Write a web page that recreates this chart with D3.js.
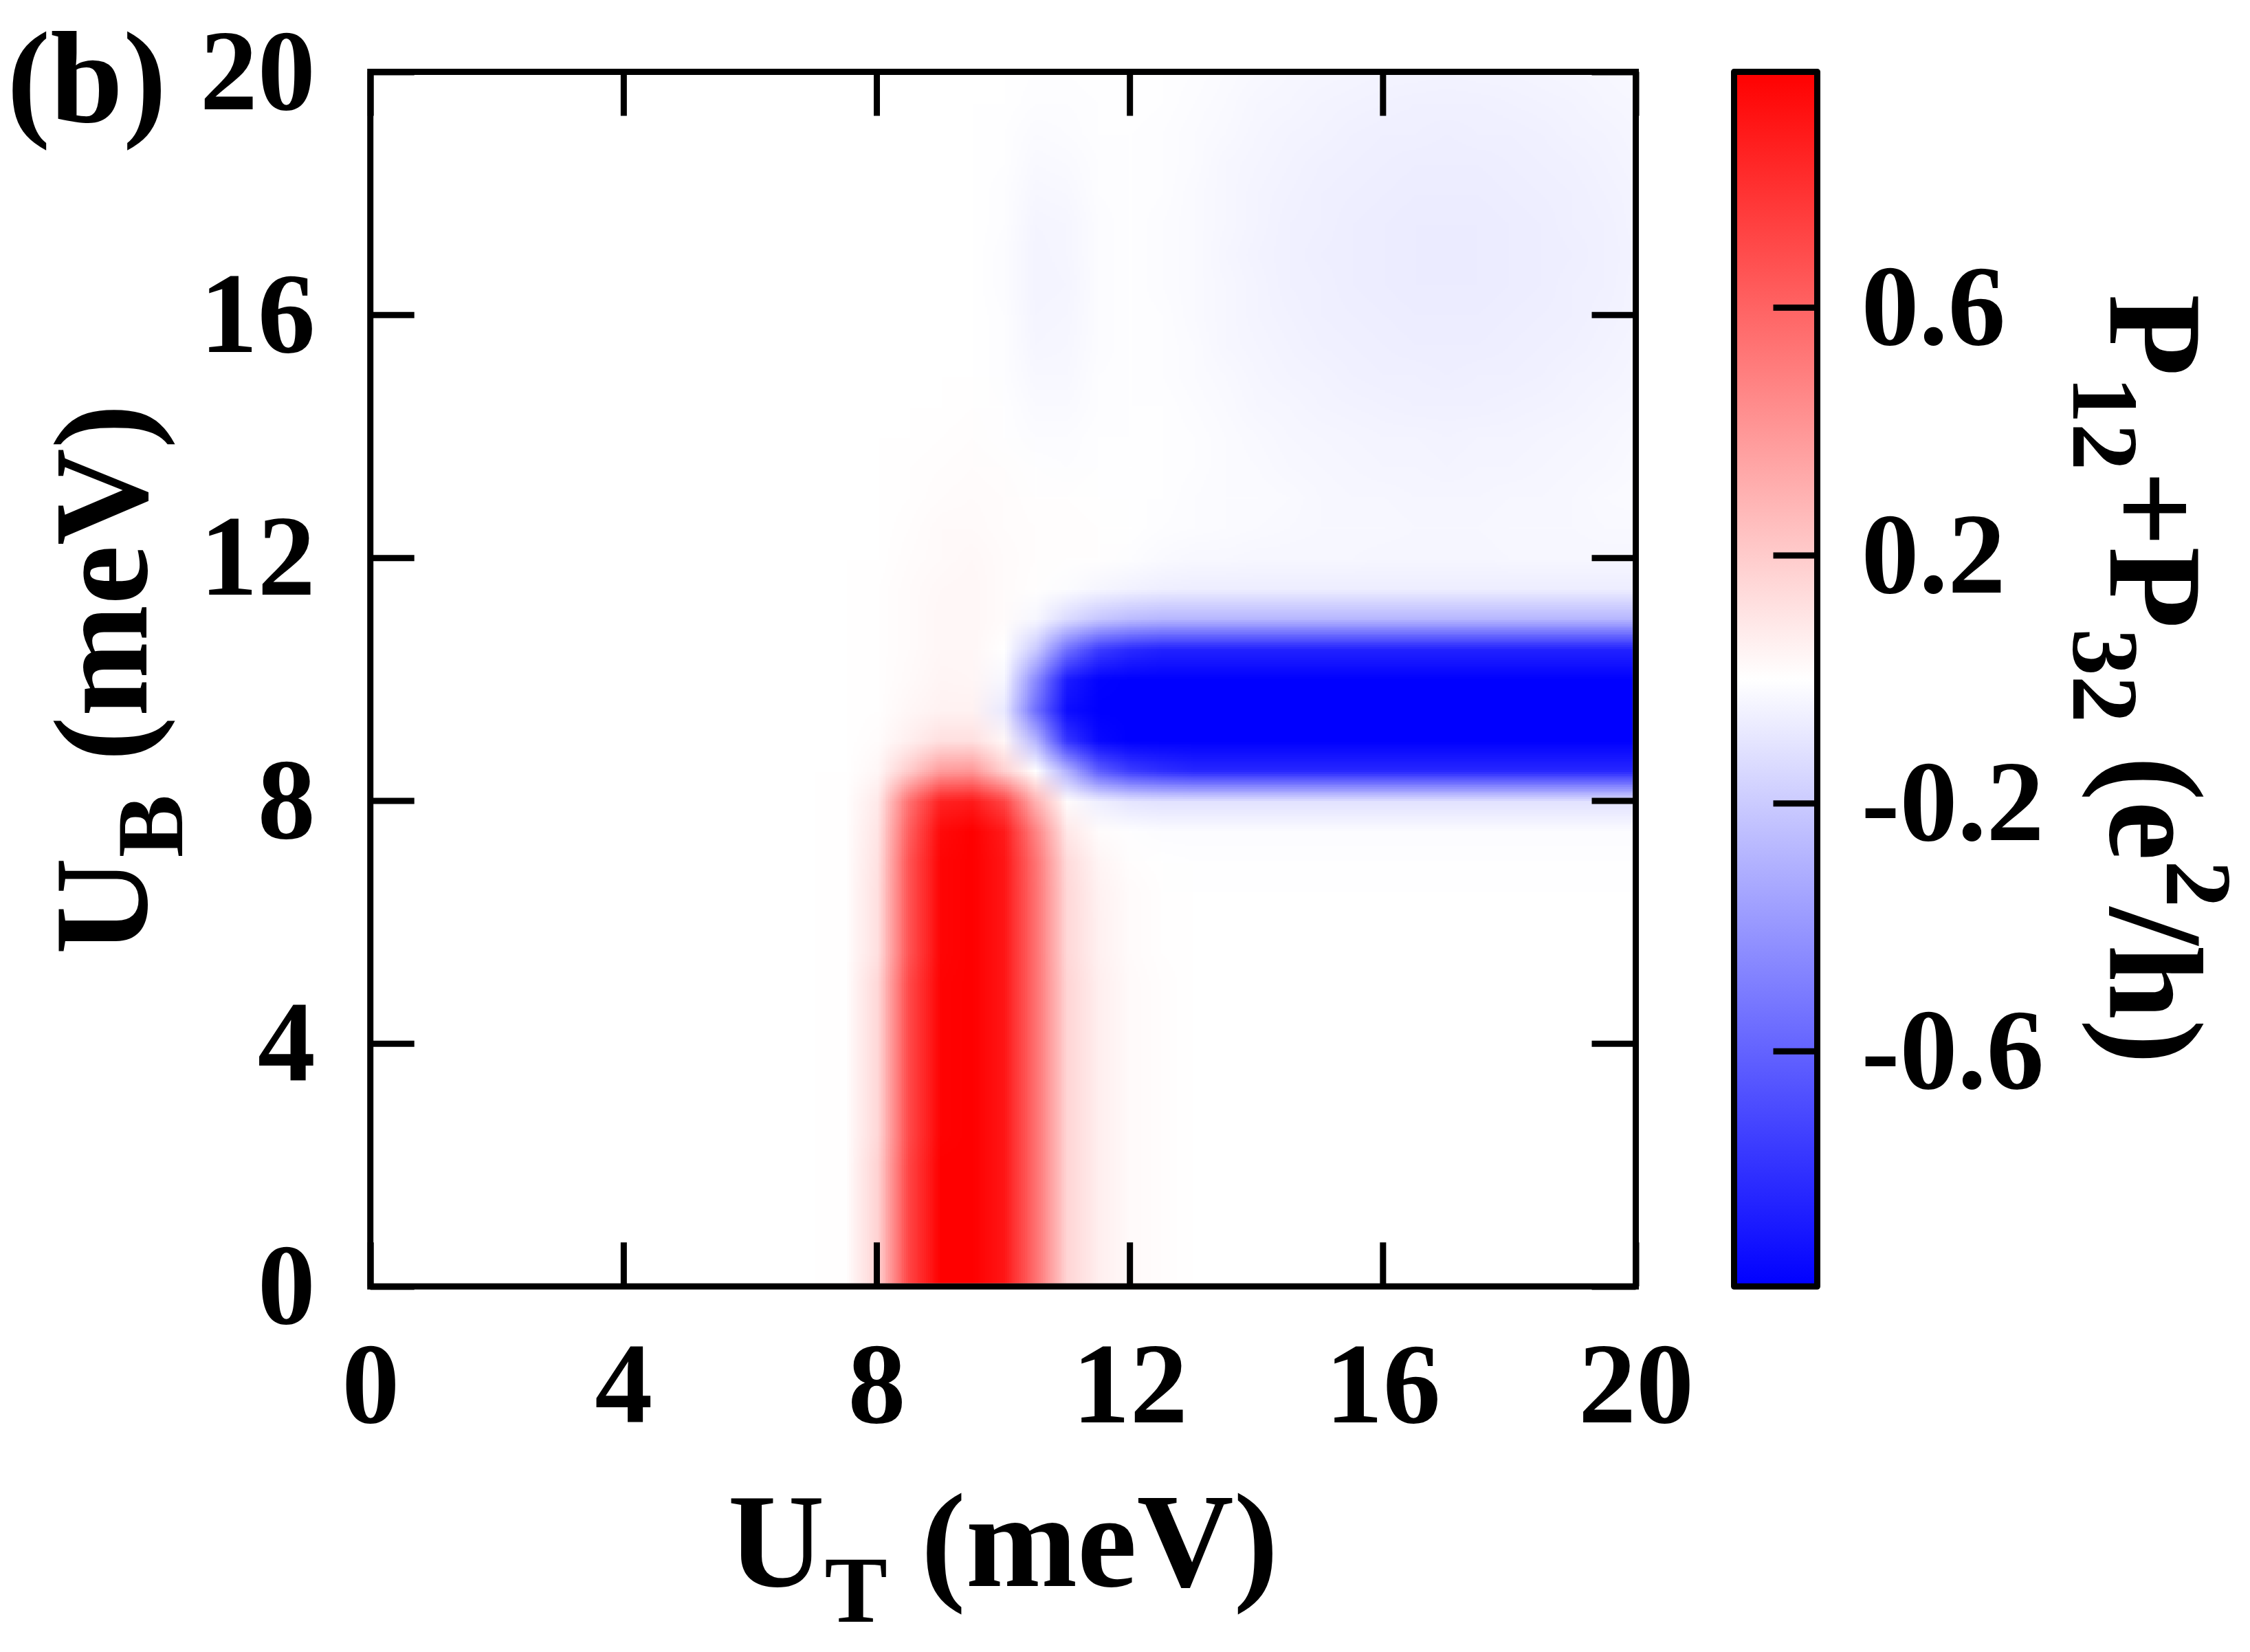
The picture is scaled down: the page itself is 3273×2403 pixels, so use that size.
<!DOCTYPE html>
<html>
<head>
<meta charset="utf-8">
<script src="https://cdn.jsdelivr.net/npm/d3@7"></script>
<style>
  html, body { margin: 0; padding: 0; background: #ffffff; }
  svg { display: block; }
</style>
</head>
<body>
<svg id="chart"></svg>
<script>
// ============================================
// P12+P32 map over U_T / U_B (panel b)
// ============================================

// --- Daten: Gitter in meV (Schritt 0.5) ---
const UT_VALUES = [0, 0.5, 1, 1.5, 2, 2.5, 3, 3.5, 4, 4.5, 5, 5.5, 6, 6.5, 7, 7.5, 8, 8.5, 9, 9.5,
  10, 10.5, 11, 11.5, 12, 12.5, 13, 13.5, 14, 14.5, 15, 15.5, 16, 16.5, 17, 17.5, 18, 18.5, 19, 19.5, 20];
const UB_VALUES = [0, 0.5, 1, 1.5, 2, 2.5, 3, 3.5, 4, 4.5, 5, 5.5, 6, 6.5, 7, 7.5, 8, 8.5, 9, 9.5,
  10, 10.5, 11, 11.5, 12, 12.5, 13, 13.5, 14, 14.5, 15, 15.5, 16, 16.5, 17, 17.5, 18, 18.5, 19, 19.5, 20];

// Bereich, den die Rechnung tatsaechlich abdeckt (schmaler weisser Rand unten/rechts)
const DATA_UT_EXTENT = [0, 19.95];
const DATA_UB_EXTENT = [0.05, 20];

// P_ROWS[j][i] = P12+P32 (e^2/h) bei U_B = UB_VALUES[j], U_T = UT_VALUES[i]
const P_ROWS = [
  [0,0,0,0,0,0,0,0,0,0,0,0,0,0,0, 0.005,0.17,0.72,0.98,1,0.9,0.55,0.16,0.06,0.02,0.006, 0,0,0,0,0,0,0,0,0,0,0,0,0,0,0],
  [0,0,0,0,0,0,0,0,0,0,0,0,0,0,0, 0.005,0.17,0.72,0.98,1,0.9,0.55,0.16,0.06,0.02,0.006, 0,0,0,0,0,0,0,0,0,0,0,0,0,0,0],
  [0,0,0,0,0,0,0,0,0,0,0,0,0,0,0, 0.005,0.17,0.72,0.98,1,0.9,0.55,0.16,0.06,0.02,0.006, 0,0,0,0,0,0,0,0,0,0,0,0,0,0,0],
  [0,0,0,0,0,0,0,0,0,0,0,0,0,0,0, 0.005,0.17,0.72,0.98,1,0.9,0.55,0.16,0.06,0.02,0.006, 0,0,0,0,0,0,0,0,0,0,0,0,0,0,0],
  [0,0,0,0,0,0,0,0,0,0,0,0,0,0,0, 0.005,0.17,0.72,0.98,1,0.9,0.55,0.16,0.06,0.02,0.006, 0,0,0,0,0,0,0,0,0,0,0,0,0,0,0],
  [0,0,0,0,0,0,0,0,0,0,0,0,0,0,0, 0.005,0.15,0.7,0.97,1,0.9,0.55,0.16,0.06,0.02,0.006, 0,0,0,0,0,0,0,0,0,0,0,0,0,0,0],
  [0,0,0,0,0,0,0,0,0,0,0,0,0,0,0, 0.005,0.15,0.7,0.97,1,0.9,0.55,0.16,0.06,0.02,0.006, 0,0,0,0,0,0,0,0,0,0,0,0,0,0,0],
  [0,0,0,0,0,0,0,0,0,0,0,0,0,0,0, 0.005,0.15,0.7,0.97,1,0.9,0.55,0.16,0.06,0.02,0.006, 0,0,0,0,0,0,0,0,0,0,0,0,0,0,0],
  [0,0,0,0,0,0,0,0,0,0,0,0,0,0,0, 0.005,0.15,0.7,0.97,1,0.9,0.55,0.16,0.06,0.02,0.006, 0,0,0,0,0,0,0,0,0,0,0,0,0,0,0],
  [0,0,0,0,0,0,0,0,0,0,0,0,0,0,0, 0.005,0.15,0.7,0.97,1,0.9,0.55,0.16,0.06,0.02,0.006, 0,0,0,0,0,0,0,0,0,0,0,0,0,0,0],
  [0,0,0,0,0,0,0,0,0,0,0,0,0,0,0, 0.005,0.15,0.7,0.97,1,0.9,0.55,0.16,0.06,0.02,0.006, 0,0,0,0,0,0,0,0,0,0,0,0,0,0,0],
  [0,0,0,0,0,0,0,0,0,0,0,0,0,0,0, 0.003,0.12,0.66,0.96,1,0.9,0.55,0.15,0.055,0.016,0.005, 0,0,0,0,0,0,0,0,0,0,0,0,0,0,0],
  [0,0,0,0,0,0,0,0,0,0,0,0,0,0,0, 0.003,0.12,0.66,0.96,1,0.9,0.55,0.15,0.055,0.016,0.005, 0,0,0,0,0,0,0,0,0,0,0,0,0,0,0],
  [0,0,0,0,0,0,0,0,0,0,0,0,0,0,0, 0.003,0.12,0.66,0.96,1,0.9,0.55,0.15,0.05,0.014,0.004, 0,0,0,0,0,0,0,0,0,0,0,0,0,0,0],
  [0,0,0,0,0,0,0,0,0,0,0,0,0,0,0, 0.003,0.11,0.66,0.96,1,0.9,0.54,0.14,0.04,0.008,0, -0.003,-0.003,-0.003,-0.003,-0.003,-0.003,-0.003,-0.003,-0.003,-0.003,-0.003,-0.003,-0.003,-0.003,-0.003],
  [0,0,0,0,0,0,0,0,0,0,0,0,0,0,0, 0.003,0.1,0.62,0.94,0.99,0.88,0.48,0.09,0.01,-0.005,-0.01, -0.012,-0.012,-0.012,-0.012,-0.012,-0.012,-0.012,-0.012,-0.012,-0.012,-0.012,-0.012,-0.012,-0.012,-0.012],
  [0,0,0,0,0,0,0,0,0,0,0,0,0,0,0, 0.002,0.08,0.55,0.85,0.88,0.72,0.3,0.01,-0.06,-0.1,-0.11, -0.11,-0.11,-0.11,-0.11,-0.11,-0.11,-0.11,-0.11,-0.11,-0.11,-0.11,-0.11,-0.11,-0.11,-0.11],
  [0,0,0,0,0,0,0,0,0,0,0,0,0,0,0, 0,0.03,0.2,0.38,0.4,0.18,0,-0.3,-0.62,-0.75,-0.8, -0.83,-0.83,-0.83,-0.83,-0.83,-0.83,-0.83,-0.83,-0.83,-0.83,-0.83,-0.83,-0.83,-0.83,-0.83],
  [0,0,0,0,0,0,0,0,0,0,0,0,0,0,0, 0,0.01,0.06,0.12,0.12,0.03,-0.28,-0.78,-0.95,-0.99,-1, -1,-1,-1,-1,-1,-1,-1,-1,-1,-1,-1,-1,-1,-1,-1],
  [0,0,0,0,0,0,0,0,0,0,0,0,0,0,0, 0,0.005,0.03,0.05,0.05,-0.08,-0.55,-0.93,-0.99,-1,-1, -1,-1,-1,-1,-1,-1,-1,-1,-1,-1,-1,-1,-1,-1,-1],
  [0,0,0,0,0,0,0,0,0,0,0,0,0,0,0, 0,0.003,0.02,0.04,0.035,-0.03,-0.45,-0.88,-0.97,-0.99,-1, -1,-1,-1,-1,-1,-1,-1,-1,-1,-1,-1,-1,-1,-1,-1],
  [0,0,0,0,0,0,0,0,0,0,0,0,0,0,0, 0,0.002,0.015,0.03,0.03,0,-0.2,-0.55,-0.75,-0.82,-0.85, -0.85,-0.85,-0.85,-0.85,-0.85,-0.85,-0.85,-0.85,-0.85,-0.85,-0.85,-0.85,-0.85,-0.85,-0.85],
  [0,0,0,0,0,0,0,0,0,0,0,0,0,0,0, 0,0.002,0.015,0.03,0.03,0.015,-0.03,-0.14,-0.22,-0.26,-0.28, -0.28,-0.28,-0.28,-0.28,-0.28,-0.28,-0.28,-0.28,-0.28,-0.28,-0.28,-0.28,-0.28,-0.28,-0.28],
  [0,0,0,0,0,0,0,0,0,0,0,0,0,0,0, 0,0.002,0.015,0.025,0.03,0.015,0.005,-0.01,-0.035,-0.05,-0.06, -0.065,-0.065,-0.065,-0.065,-0.065,-0.065,-0.065,-0.065,-0.065,-0.065,-0.065,-0.065,-0.065,-0.065,-0.065],
  [0,0,0,0,0,0,0,0,0,0,0,0,0,0,0, 0,0.001,0.01,0.02,0.025,0.015,0.008,0.005,0.003,-0.008,-0.018, -0.025,-0.028,-0.03,-0.03,-0.031,-0.032,-0.033,-0.033,-0.033,-0.033,-0.032,-0.032,-0.031,-0.03,-0.03],
  [0,0,0,0,0,0,0,0,0,0,0,0,0,0,0, 0,0,0.008,0.018,0.02,0.012,0.008,0.006,0.005,0,-0.008, -0.012,-0.016,-0.02,-0.023,-0.025,-0.027,-0.028,-0.029,-0.029,-0.029,-0.028,-0.027,-0.026,-0.024,-0.022],
  [0,0,0,0,0,0,0,0,0,0,0,0,0,0,0, 0,0,0.004,0.01,0.015,0.012,0.005,0.002,0,-0.003,-0.005, -0.01,-0.014,-0.017,-0.021,-0.026,-0.029,-0.032,-0.034,-0.035,-0.034,-0.032,-0.029,-0.026,-0.021,-0.017],
  [0,0,0,0,0,0,0,0,0,0,0,0,0,0,0, 0,0,0.002,0.008,0.012,0.006,-0.005,-0.006,-0.003,-0.001,-0.004, -0.009,-0.014,-0.02,-0.026,-0.031,-0.036,-0.039,-0.04,-0.041,-0.04,-0.039,-0.036,-0.031,-0.026,-0.02],
  [0,0,0,0,0,0,0,0,0,0,0,0,0,0,0, 0,0,0,0.004,0.006,-0.002,-0.012,-0.012,-0.005,-0.002,-0.003, -0.008,-0.014,-0.023,-0.03,-0.035,-0.04,-0.043,-0.044,-0.045,-0.044,-0.043,-0.04,-0.035,-0.03,-0.023],
  [0,0,0,0,0,0,0,0,0,0,0,0,0,0,0, 0,0,0,0,0.002,-0.005,-0.019,-0.018,-0.007,-0.002,-0.005, -0.011,-0.02,-0.03,-0.036,-0.042,-0.047,-0.05,-0.052,-0.053,-0.052,-0.05,-0.047,-0.042,-0.036,-0.03],
  [0,0,0,0,0,0,0,0,0,0,0,0,0,0,0, 0,0,0,0,0,-0.007,-0.027,-0.025,-0.009,-0.002,-0.006, -0.014,-0.024,-0.035,-0.042,-0.048,-0.053,-0.057,-0.059,-0.06,-0.059,-0.057,-0.053,-0.048,-0.042,-0.035],
  [0,0,0,0,0,0,0,0,0,0,0,0,0,0,0, 0,0,0,0,0,-0.008,-0.034,-0.031,-0.01,-0.003,-0.008, -0.017,-0.029,-0.04,-0.047,-0.053,-0.058,-0.062,-0.065,-0.066,-0.065,-0.062,-0.058,-0.053,-0.047,-0.04],
  [0,0,0,0,0,0,0,0,0,0,0,0,0,0,0, 0,0,0,0,0,-0.009,-0.039,-0.035,-0.011,-0.003,-0.009, -0.019,-0.032,-0.043,-0.05,-0.057,-0.062,-0.067,-0.069,-0.07,-0.069,-0.067,-0.062,-0.057,-0.05,-0.043],
  [0,0,0,0,0,0,0,0,0,0,0,0,0,0,0, 0,0,0,0,0,-0.01,-0.041,-0.037,-0.011,-0.003,-0.01, -0.02,-0.032,-0.044,-0.052,-0.059,-0.065,-0.069,-0.073,-0.074,-0.073,-0.069,-0.065,-0.059,-0.052,-0.044],
  [0,0,0,0,0,0,0,0,0,0,0,0,0,0,0, 0,0,0,0,0,-0.01,-0.041,-0.036,-0.011,-0.003,-0.01, -0.021,-0.033,-0.045,-0.053,-0.06,-0.066,-0.07,-0.074,-0.075,-0.074,-0.07,-0.066,-0.06,-0.053,-0.045],
  [0,0,0,0,0,0,0,0,0,0,0,0,0,0,0, 0,0,0,0,0,-0.009,-0.038,-0.033,-0.01,-0.003,-0.01, -0.02,-0.032,-0.044,-0.052,-0.059,-0.065,-0.069,-0.073,-0.074,-0.073,-0.069,-0.065,-0.059,-0.052,-0.044],
  [0,0,0,0,0,0,0,0,0,0,0,0,0,0,0, 0,0,0,0,0,-0.007,-0.03,-0.026,-0.008,-0.003,-0.009, -0.019,-0.032,-0.043,-0.05,-0.057,-0.062,-0.067,-0.069,-0.07,-0.069,-0.067,-0.062,-0.057,-0.05,-0.043],
  [0,0,0,0,0,0,0,0,0,0,0,0,0,0,0, 0,0,0,0,0,-0.005,-0.022,-0.019,-0.006,-0.002,-0.008, -0.017,-0.029,-0.04,-0.047,-0.053,-0.058,-0.062,-0.065,-0.066,-0.065,-0.062,-0.058,-0.053,-0.047,-0.04],
  [0,0,0,0,0,0,0,0,0,0,0,0,0,0,0, 0,0,0,0,0,-0.003,-0.015,-0.012,-0.004,-0.002,-0.006, -0.014,-0.024,-0.035,-0.042,-0.048,-0.053,-0.057,-0.059,-0.06,-0.059,-0.057,-0.053,-0.048,-0.042,-0.035],
  [0,0,0,0,0,0,0,0,0,0,0,0,0,0,0, 0,0,0,0,0,-0.001,-0.008,-0.006,-0.002,-0.001,-0.005, -0.011,-0.02,-0.03,-0.036,-0.042,-0.047,-0.05,-0.052,-0.053,-0.052,-0.05,-0.047,-0.042,-0.036,-0.03],
  [0,0,0,0,0,0,0,0,0,0,0,0,0,0,0, 0,0,0,0,0,0,-0.004,-0.003,-0.001,-0.001,-0.003, -0.008,-0.014,-0.023,-0.03,-0.035,-0.04,-0.043,-0.044,-0.045,-0.044,-0.043,-0.04,-0.035,-0.03,-0.023]
];

// Achsen-Ticks und Farbskala
const AXIS_TICKS = [0, 4, 8, 12, 16, 20];
const CB_TICKS   = [0.6, 0.2, -0.2, -0.6];
const CB_RANGE   = [-0.98, 0.98];
const CB_COLORS  = ['#0000ff', '#ffffff', '#ff0000'];

// --- Layout ---
const W = 3273, H = 2403;
const plot = { left: 538.7, right: 2379.5, top: 104.5, bottom: 1871.2 };
const cbar = { left: 2522.5, right: 2643.5 };
const FONT = "'Liberation Serif', 'Times New Roman', serif";
const TICK_LEN = 64, LINE_W = 9;

const svg = d3.select('#chart').attr('width', W).attr('height', H);

const x  = d3.scaleLinear().domain([0, 20]).range([plot.left, plot.right]);
const y  = d3.scaleLinear().domain([0, 20]).range([plot.bottom, plot.top]);
const cb = d3.scaleLinear().domain(CB_RANGE).range([plot.bottom, plot.top]);
const color = d3.scaleLinear()
  .domain([CB_RANGE[0], 0, CB_RANGE[1]])
  .range(CB_COLORS)
  .clamp(true);

const defs = svg.append('defs');
defs.append('clipPath').attr('id', 'data-clip')
  .append('rect')
  .attr('x', x(DATA_UT_EXTENT[0])).attr('y', y(DATA_UB_EXTENT[1]))
  .attr('width', x(DATA_UT_EXTENT[1]) - x(DATA_UT_EXTENT[0]))
  .attr('height', y(DATA_UB_EXTENT[0]) - y(DATA_UB_EXTENT[1]));

// --- Heatmap: ein Pixel pro Gitterpunkt, vom Browser geglaettet ---
const nx = UT_VALUES.length, ny = UB_VALUES.length;
const canvas = document.createElement('canvas');
canvas.width = nx;
canvas.height = ny;
const ctx = canvas.getContext('2d');
const img = ctx.createImageData(nx, ny);
P_ROWS.forEach((row, j) => {
  row.forEach((v, i) => {
    const c = d3.rgb(color(v));
    const k = ((ny - 1 - j) * nx + i) * 4;
    img.data[k]     = c.r;
    img.data[k + 1] = c.g;
    img.data[k + 2] = c.b;
    img.data[k + 3] = 255;
  });
});
ctx.putImageData(img, 0, 0);

const hx = (UT_VALUES[1] - UT_VALUES[0]) / 2;
const hy = (UB_VALUES[1] - UB_VALUES[0]) / 2;
svg.append('image')
  .attr('href', canvas.toDataURL())
  .attr('x', x(UT_VALUES[0] - hx))
  .attr('y', y(UB_VALUES[ny - 1] + hy))
  .attr('width', x(UT_VALUES[nx - 1] + hx) - x(UT_VALUES[0] - hx))
  .attr('height', y(UB_VALUES[0] - hy) - y(UB_VALUES[ny - 1] + hy))
  .attr('preserveAspectRatio', 'none')
  .attr('clip-path', 'url(#data-clip)');

// Rahmen
svg.append('rect')
  .attr('x', plot.left).attr('y', plot.top)
  .attr('width', plot.right - plot.left).attr('height', plot.bottom - plot.top)
  .attr('fill', 'none').attr('stroke', '#000').attr('stroke-width', LINE_W);

// --- Achsen (Ticks nach innen) ---
function styleAxis(g, size) {
  g.select('.domain').remove();
  g.attr('font-family', FONT).attr('font-size', size).attr('font-weight', 'bold');
  g.selectAll('.tick line').attr('stroke', '#000').attr('stroke-width', LINE_W);
  g.selectAll('.tick text').attr('fill', '#000');
}

svg.append('g')
  .attr('transform', `translate(0,${plot.bottom})`)
  .call(d3.axisBottom(x).tickValues(AXIS_TICKS).tickSize(-TICK_LEN).tickPadding(79).tickFormat(d3.format('d')))
  .call(g => styleAxis(g, 168));

svg.append('g')
  .attr('transform', `translate(0,${plot.top})`)
  .call(d3.axisTop(x).tickValues(AXIS_TICKS).tickSize(-TICK_LEN).tickFormat(''))
  .call(g => styleAxis(g, 168));

svg.append('g')
  .attr('transform', `translate(${plot.left},0)`)
  .call(d3.axisLeft(y).tickValues(AXIS_TICKS).tickSize(-TICK_LEN).tickPadding(80).tickFormat(d3.format('d')))
  .call(g => styleAxis(g, 168));

svg.append('g')
  .attr('transform', `translate(${plot.right},0)`)
  .call(d3.axisRight(y).tickValues(AXIS_TICKS).tickSize(-TICK_LEN).tickFormat(''))
  .call(g => styleAxis(g, 168));

// --- Farbskala ---
const grad = defs.append('linearGradient')
  .attr('id', 'cb-grad')
  .attr('x1', 0).attr('y1', 1).attr('x2', 0).attr('y2', 0);
color.domain().forEach(v => {
  grad.append('stop')
    .attr('offset', (v - CB_RANGE[0]) / (CB_RANGE[1] - CB_RANGE[0]))
    .attr('stop-color', color(v));
});

svg.append('rect')
  .attr('x', cbar.left).attr('y', plot.top)
  .attr('width', cbar.right - cbar.left).attr('height', plot.bottom - plot.top)
  .attr('fill', 'url(#cb-grad)')
  .attr('stroke', '#000').attr('stroke-width', LINE_W)
  .attr('stroke-linejoin', 'round');

svg.append('g')
  .attr('transform', `translate(${cbar.right},0)`)
  .call(d3.axisRight(cb).tickValues(CB_TICKS).tickSize(-TICK_LEN).tickPadding(64).tickFormat(d => d.toFixed(1)))
  .call(g => styleAxis(g, 168));

// --- Beschriftungen ---
function label(sel, size) {
  return sel.attr('font-family', FONT).attr('font-size', size)
    .attr('font-weight', 'bold').attr('fill', '#000');
}

// Panel-Kennung
label(svg.append('text'), 190)
  .attr('x', 10).attr('y', 178)
  .text('(b)');

// x-Achse: U_T (meV)
const xt = label(svg.append('text'), 195)
  .attr('x', (plot.left + plot.right) / 2).attr('y', 2307)
  .attr('text-anchor', 'middle');
xt.append('tspan').text('U');
xt.append('tspan').attr('font-size', 137).attr('dy', 52).text('T');
xt.append('tspan').attr('dy', -52).text(' (meV)');

// y-Achse: U_B (meV)
const yt = label(svg.append('text'), 195)
  .attr('transform', `translate(213,${(plot.top + plot.bottom) / 2}) rotate(-90)`)
  .attr('text-anchor', 'middle');
yt.append('tspan').text('U');
yt.append('tspan').attr('font-size', 137).attr('dy', 52).text('B');
yt.append('tspan').attr('dy', -52).text(' (meV)');

// Farbskala: P12+P32 (e^2/h)
const ct = label(svg.append('text'), 195)
  .attr('transform', `translate(3070,${(plot.top + plot.bottom) / 2}) rotate(90)`)
  .attr('text-anchor', 'middle');
ct.append('tspan').text('P');
ct.append('tspan').attr('font-size', 137).attr('dy', 54).text('12');
ct.append('tspan').attr('dy', -54).text('+P');
ct.append('tspan').attr('font-size', 137).attr('dy', 54).text('32');
ct.append('tspan').attr('dy', -54).text(' (e');
ct.append('tspan').attr('font-size', 137).attr('dy', -82).text('2');
ct.append('tspan').attr('dy', 82).text('/h)');
</script>
</body>
</html>
